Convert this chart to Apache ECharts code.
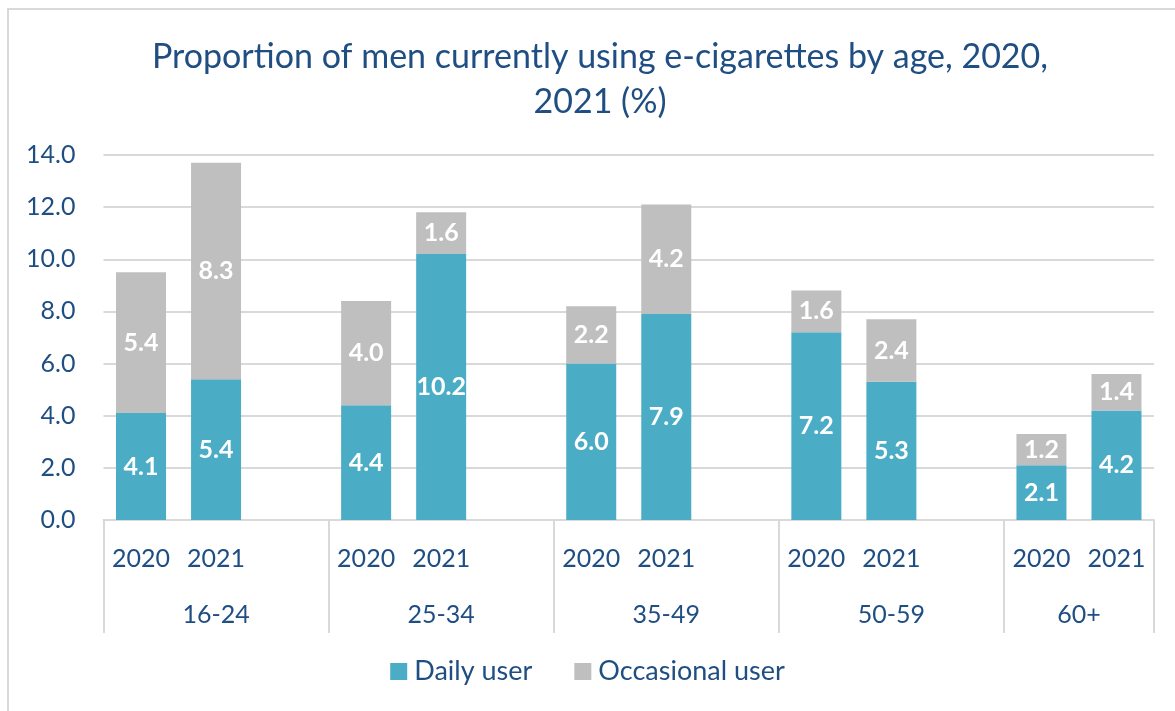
<!DOCTYPE html>
<html>
<head>
<meta charset="utf-8">
<script src="https://cdn.jsdelivr.net/npm/echarts@6/dist/echarts.min.js"></script>
<style>
  html, body { margin: 0; padding: 0; background: #fff; }
  #frame { position: absolute; left: 7px; top: 8px; width: 1180px; height: 720px;
           border-left: 2px solid #d9d9d9; border-top: 2px solid #d9d9d9; box-sizing: border-box; }
  #chart { position: absolute; left: 0; top: 0; width: 1175px; height: 711px; }
</style>
</head>
<body>
<div id="frame"></div>
<div id="chart"></div>
<script>
// Age groups and survey years
const groups = ['16-24', '25-34', '35-49', '50-59', '60+'];
const years = ['2020', '2021'];
// Values per group, in year order (%)
const daily = [4.1, 5.4, 4.4, 10.2, 6.0, 7.9, 7.2, 5.3, 2.1, 4.2];
const occasional = [5.4, 8.3, 4.0, 1.6, 2.2, 4.2, 1.6, 2.4, 1.2, 1.4];
const yTicks = { min: 0, max: 14, step: 2 };

const TEXT = '#1f4e83';
const FONT = 'Lato, "Noto Sans", sans-serif';

// Category list: each group's years, followed by an empty spacer slot between groups
const cats = [];
const dailyData = [];
const occData = [];
const groupStart = [];
const groupSpan = [];
groups.forEach((g, gi) => {
  groupStart.push(cats.length);
  years.forEach((y, yi) => {
    cats.push(y);
    dailyData.push(daily[gi * years.length + yi]);
    occData.push(occasional[gi * years.length + yi]);
  });
  if (gi < groups.length - 1) {
    cats.push('');
    dailyData.push('-');
    occData.push('-');
  }
  groupSpan.push(cats.length - groupStart[gi]);
});
const groupCenters = groupStart.map((s, i) => s + groupSpan[i] / 2);
const groupEdges = groupStart.concat([cats.length]);

const chart = echarts.init(document.getElementById('chart'), null, { renderer: 'canvas' });

const labelCfg = {
  show: true,
  position: 'inside',
  color: '#ffffff',
  fontFamily: FONT,
  fontWeight: 'bold',
  fontSize: 25,
  formatter: p => Number(p.value).toFixed(1)
};

chart.setOption({
  animation: false,
  backgroundColor: 'transparent',
  title: {
    text: 'Proportion of men currently using e-cigarettes by age, 2020,\n2021 (%)',
    left: 595,
    top: 30,
    textAlign: 'center',
    textStyle: { color: TEXT, fontFamily: FONT, fontWeight: 'normal', fontSize: 34, lineHeight: 45 }
  },
  legend: {
    bottom: 21,
    left: 'center',
    itemWidth: 17,
    itemHeight: 17,
    itemGap: 42,
    icon: 'rect',
    textStyle: { color: TEXT, fontFamily: FONT, fontSize: 27, padding: [0, 0, 0, 2] },
    data: ['Daily user', 'Occasional user']
  },
  grid: { left: 103.5, right: 21, top: 155, bottom: 191, containLabel: false },
  xAxis: [
    {
      type: 'category',
      data: cats,
      boundaryGap: true,
      axisLine: { show: true, lineStyle: { color: '#d9d9d9', width: 2 } },
      axisTick: { show: false },
      axisLabel: { color: TEXT, fontFamily: FONT, fontSize: 25, margin: 26, interval: 0 }
    },
    {
      type: 'value',
      min: 0,
      max: cats.length,
      position: 'bottom',
      axisLine: { show: false },
      splitLine: { show: false },
      axisTick: {
        show: true,
        customValues: groupEdges,
        length: 113,
        lineStyle: { color: '#d9d9d9', width: 2 }
      },
      axisLabel: {
        customValues: groupCenters,
        color: TEXT,
        fontFamily: FONT,
        fontSize: 25,
        margin: 82,
        formatter: v => {
          const i = groupCenters.findIndex(c => Math.abs(c - v) < 1e-6);
          return i >= 0 ? groups[i] : '';
        }
      }
    }
  ],
  yAxis: {
    type: 'value',
    min: yTicks.min,
    max: yTicks.max,
    interval: yTicks.step,
    axisLine: { show: false },
    axisTick: { show: false },
    splitLine: { lineStyle: { color: '#d9d9d9', width: 2 } },
    axisLabel: {
      color: TEXT, fontFamily: FONT, fontSize: 25, margin: 28,
      formatter: v => v.toFixed(1)
    }
  },
  series: [
    {
      name: 'Daily user',
      type: 'bar',
      stack: 'total',
      xAxisIndex: 0,
      barWidth: 50,
      itemStyle: { color: '#4bacc6' },
      label: labelCfg,
      data: dailyData
    },
    {
      name: 'Occasional user',
      type: 'bar',
      stack: 'total',
      xAxisIndex: 0,
      barWidth: 50,
      itemStyle: { color: '#bfbfbf' },
      label: labelCfg,
      data: occData
    }
  ]
});
</script>
</body>
</html>
